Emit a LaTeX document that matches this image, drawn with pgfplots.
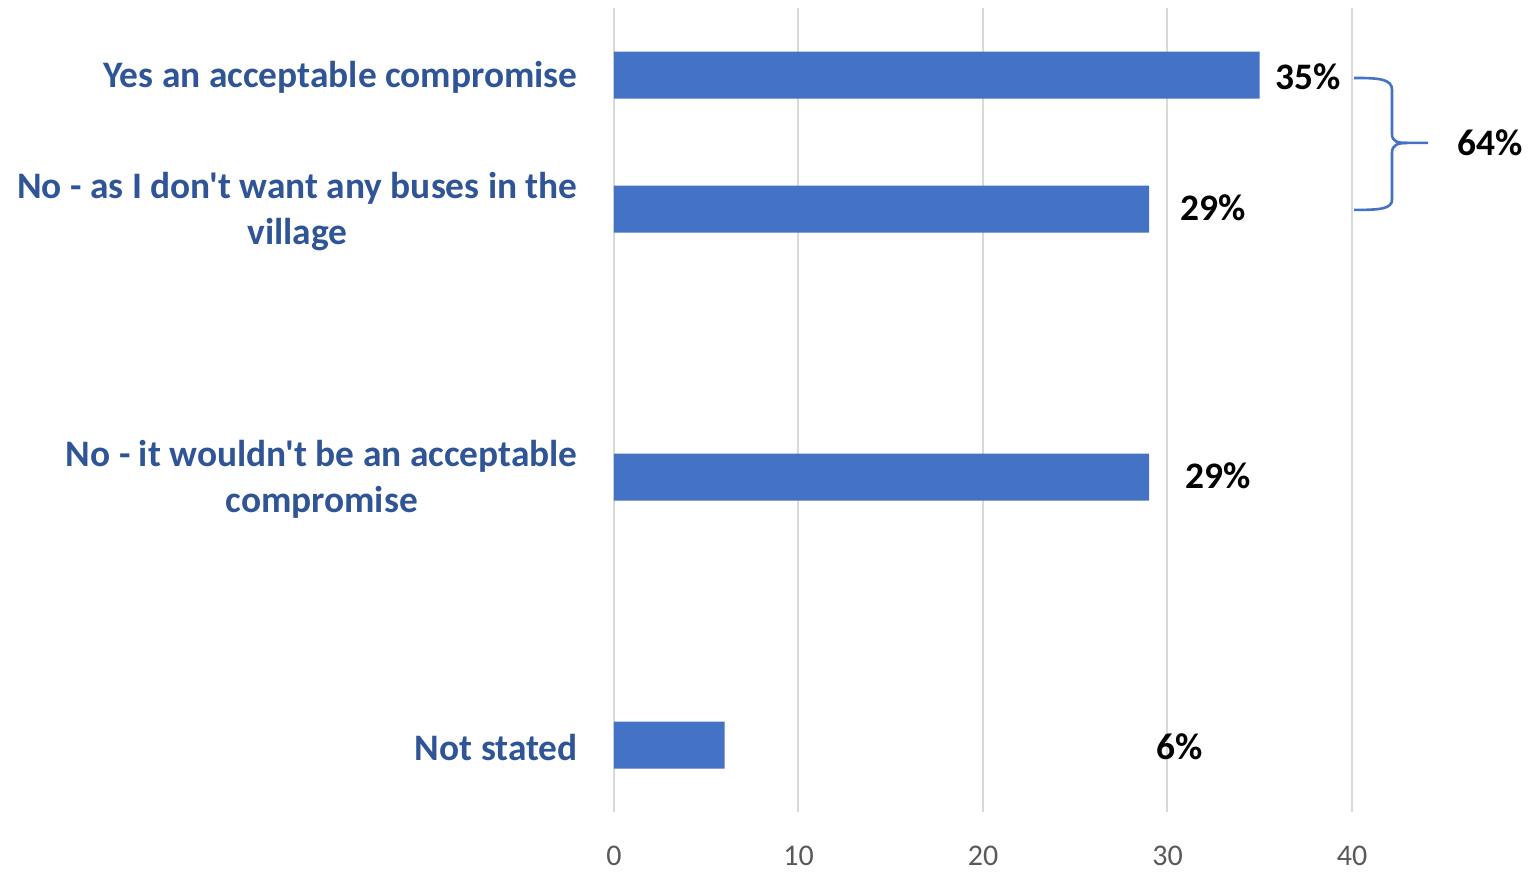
\documentclass[border=0pt]{standalone}
\usepackage{pgfplots}
\pgfplotsset{compat=1.18}
\usepackage{fontspec}
\setmainfont{Carlito}[Ligatures=TeXOff]
\definecolor{barblue}{HTML}{4472C4}
\definecolor{labblue}{HTML}{2F5597}
\definecolor{gridgray}{HTML}{D9D9D9}
\definecolor{tickgray}{HTML}{595959}
\begin{document}
\begin{tikzpicture}
\useasboundingbox (-307pt,-30pt) rectangle (457.5pt,406pt);
\begin{axis}[
  at={(0pt,0pt)}, anchor=south west,
  scale only axis, width=369pt, height=402pt,
  xmin=0, xmax=40, ymin=-0.5, ymax=5.5,
  y dir=reverse,
  xbar, bar width=23.5pt, bar shift=0pt,
  axis line style={draw=none},
  major tick length=0pt,
  xtick={0,10,20,30,40},
  xmajorgrids, grid style={gridgray, line width=1pt},
  ytick={0,1,3,5},
  yticklabels={Yes an acceptable compromise, {No - as I don't want any buses in the\\village}, {No - it wouldn't be an acceptable\\compromise}, Not stated},
  yticklabel style={font=\fontsize{18.7}{23}\selectfont\bfseries, text=labblue, align=center, inner sep=0pt, xshift=-18pt, yshift=-1.3pt},
  xticklabel style={font=\fontsize{15}{16}\selectfont, text=tickgray, inner sep=0pt, yshift=-17pt},
  /pgf/number format/assume math mode=true,
  clip=false,
]
\addplot[fill=barblue, draw=none] coordinates {(35,0) (29,1) (29,3) (6,5)};
\begin{scope}[font=\fontsize{18.7}{20}\selectfont\bfseries]
\node at (axis cs:37.6,0.015) {35\%};
\node at (axis cs:32.47,0.99) {29\%};
\node at (axis cs:32.74,2.99) {29\%};
\node at (axis cs:30.68,5.01) {6\%};
\node at (axis cs:47.5,0.507) {64\%};
\end{scope}
\draw[barblue, line width=1.3pt]
  (axis cs:40.11,0.022) .. controls (axis cs:41.5,0.022) and (axis cs:42.17,0.03) .. (axis cs:42.17,0.112)
  -- (axis cs:42.17,0.44) .. controls (axis cs:42.17,0.5) and (axis cs:42.5,0.507) .. (axis cs:43.0,0.507)
  -- (axis cs:44.12,0.507);
\draw[barblue, line width=1.3pt]
  (axis cs:43.0,0.507) .. controls (axis cs:42.5,0.507) and (axis cs:42.17,0.52) .. (axis cs:42.17,0.58)
  -- (axis cs:42.17,0.93) .. controls (axis cs:42.17,1.0) and (axis cs:41.5,1.007) .. (axis cs:40.11,1.007);
\end{axis}
\end{tikzpicture}
\end{document}
